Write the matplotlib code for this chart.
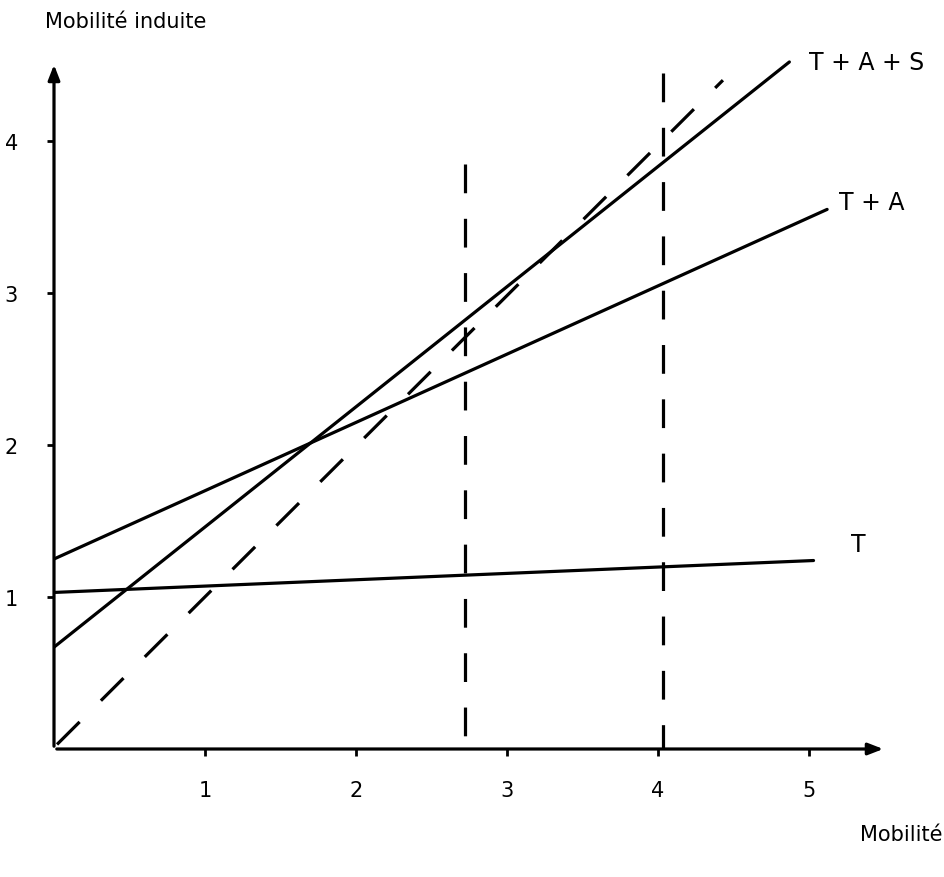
import matplotlib
matplotlib.use("Agg")
import matplotlib.pyplot as plt

# data (axis units)
t_x, t_y = [0.0, 5.03], [1.03, 1.24]
ta_x, ta_y = [0.0, 5.12], [1.25, 3.55]
tas_x, tas_y = [0.0, 4.87], [0.67, 4.52]
diag_x, diag_y = [0.02, 4.43], [0.03, 4.40]
vlines_x = [2.72, 4.03]
vlines_top = [3.85, 4.45]
ticks = [1, 2, 3, 4, 5]
yticks = [1, 2, 3, 4]

W, H = 944, 878
fig = plt.figure(figsize=(W / 100, H / 100), dpi=100)
x0, y0 = 54, 750          # origin in pixels
sx, sy = 151, 152         # px per unit
xmax, ymax = 5.6, 4.8
ax = fig.add_axes([x0 / W, (H - y0) / H, xmax * sx / W, ymax * sy / H])
ax.set_xlim(0, xmax)
ax.set_ylim(0, ymax)
for s in ax.spines.values():
    s.set_visible(False)

lw = 2.3
ax.plot(t_x, t_y, color="black", lw=lw, solid_capstyle="round")
ax.plot(ta_x, ta_y, color="black", lw=lw, solid_capstyle="round")
ax.plot(tas_x, tas_y, color="black", lw=lw, solid_capstyle="round")
ax.plot(diag_x, diag_y, color="black", lw=lw, dashes=(10, 9.4))
# verticals drawn top-down so the dash pattern starts at the top
for xv, top in zip(vlines_x, vlines_top):
    ax.plot([xv, xv], [top, 0], color="black", lw=lw, dashes=(9, 8))

# axes with arrows
arrow = dict(arrowstyle="-|>,head_length=0.9,head_width=0.35", color="black", lw=2.3)
ax.annotate("", xy=(5.51, 0), xytext=(0, 0), arrowprops=arrow, annotation_clip=False)
ax.annotate("", xy=(0, 4.52), xytext=(0, 0), arrowprops=arrow, annotation_clip=False)

ax.set_xticks(ticks)
ax.set_yticks(yticks)
ax.set_xticklabels([str(t) for t in ticks])
ax.set_yticklabels([str(t) for t in yticks])
ax.tick_params(axis="x", direction="out", length=5, width=2, pad=17, labelsize=15)
ax.tick_params(axis="y", direction="out", length=5, width=2, pad=21, labelsize=15)

ax.text(5.0, 4.52, "T + A + S", fontsize=17, va="center", ha="left")
ax.text(5.2, 3.6, "T + A", fontsize=17, va="center", ha="left")
ax.text(5.28, 1.35, "T", fontsize=17, va="center", ha="left")

fig.text(45 / W, 1 - 22 / H, "Mobilité induite", fontsize=15, ha="left", va="center")
fig.text(1 - 2 / W, 1 - 835 / H, "Mobilité", fontsize=15, ha="right", va="center")

fig.savefig("out.png", dpi=100)
